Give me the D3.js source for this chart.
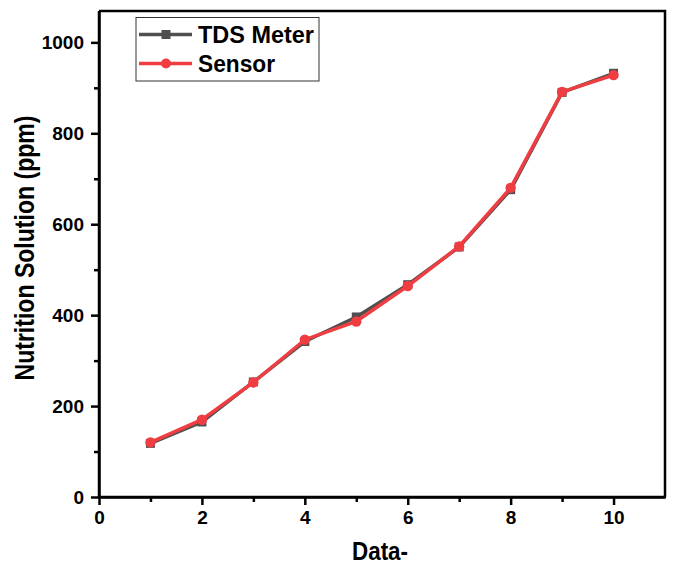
<!DOCTYPE html>
<html><head><meta charset="utf-8">
<script src="https://cdn.jsdelivr.net/npm/d3@7/dist/d3.min.js"></script>
<style>body{margin:0;background:#fff}svg{display:block}text{font-family:"Liberation Sans",Arial,sans-serif;font-weight:bold}</style>
</head><body><svg id="c" width="673" height="567"></svg>
<script>
const xs = [1,2,3,4,5,6,7,8,9,10];
const tdsMeter = [118,165,253,342,396,467,550,676,890,932];
const sensor   = [120,170,252,346,386,464,551,680,891,928];
const xTicks = [0,2,4,6,8,10];
const yTicks = [0,200,400,600,800,1000];
const seriesNames = ["TDS Meter","Sensor"];

const svg = d3.select("#c");
const L=99, R=665, T=11, B=497;
const x = d3.scaleLinear().domain([0,11]).range([L,R]);
const y = d3.scaleLinear().domain([0,1069]).range([B,T]);

// frame
svg.append("path").attr("d",`M${L},${T}H${R}V${B}`).attr("fill","none").attr("stroke","#000").attr("stroke-width",2.5);

svg.append("g").attr("transform",`translate(0,${B})`)
  .call(d3.axisBottom(x).tickValues(xTicks).tickSize(8).tickSizeOuter(0).tickPadding(6).tickFormat(d3.format("d")));
svg.append("g").attr("transform",`translate(0,${B})`)
  .call(d3.axisBottom(x).tickValues([1,3,5,7,9]).tickSize(5).tickFormat("").tickSizeOuter(0))
  .select(".domain").remove();
svg.append("g").attr("transform",`translate(${L},0)`)
  .call(d3.axisLeft(y).tickValues(yTicks).tickSize(8).tickSizeOuter(0).tickPadding(7).tickFormat(d3.format("d")));
svg.append("g").attr("transform",`translate(${L},0)`)
  .call(d3.axisLeft(y).tickValues([100,300,500,700,900]).tickSize(5).tickFormat("").tickSizeOuter(0))
  .select(".domain").remove();
svg.selectAll(".domain").attr("stroke-width",2.5);
svg.selectAll(".tick line").attr("stroke-width",2.5);
svg.selectAll(".tick text").style("font-size","19px").attr("fill","#000");
svg.append("line").attr("x1",L).attr("x2",L).attr("y1",T).attr("y2",B+1).attr("stroke","#000").attr("stroke-width",2.5);
svg.append("line").attr("x1",L-1).attr("x2",R+1).attr("y1",B).attr("y2",B).attr("stroke","#000").attr("stroke-width",2.5);

svg.append("text").attr("x",380).attr("y",560).attr("text-anchor","middle").style("font-size","26px")
  .attr("textLength",56).attr("lengthAdjust","spacingAndGlyphs").text("Data-");
svg.append("text").attr("transform",`translate(34,248) rotate(-90)`).attr("text-anchor","middle").style("font-size","27px")
  .attr("textLength",265).attr("lengthAdjust","spacingAndGlyphs").text("Nutrition Solution (ppm)");

const gray="#4f4f4f", red="#ef3d42";
const line = d3.line().x((d,i)=>x(xs[i])).y(d=>y(d));
svg.append("path").datum(tdsMeter).attr("d",line).attr("fill","none").attr("stroke",gray).attr("stroke-width",3.5);
svg.selectAll(".sq").data(tdsMeter).enter().append("rect")
  .attr("x",(d,i)=>x(xs[i])-4.5).attr("y",d=>y(d)-4.5).attr("width",9).attr("height",9).attr("fill",gray);
svg.append("path").datum(sensor).attr("d",line).attr("fill","none").attr("stroke",red).attr("stroke-width",3.5);
svg.selectAll(".ci").data(sensor).enter().append("circle")
  .attr("cx",(d,i)=>x(xs[i])).attr("cy",d=>y(d)).attr("r",5.2).attr("fill",red);

// legend
const lg = svg.append("g");
lg.append("rect").attr("x",136).attr("y",17.5).attr("width",183).attr("height",63.5).attr("fill","#fff").attr("stroke","#333").attr("stroke-width",1);
const lens=[116,77];
[gray,red].forEach((c,i)=>{
  const yy = 34.5 + i*29;
  lg.append("line").attr("x1",139).attr("x2",192).attr("y1",yy).attr("y2",yy).attr("stroke",c).attr("stroke-width",3.5);
  if(i===0) lg.append("rect").attr("x",161.5).attr("y",yy-4.5).attr("width",9).attr("height",9).attr("fill",c);
  else lg.append("circle").attr("cx",166).attr("cy",yy).attr("r",5).attr("fill",c);
  lg.append("text").attr("x",198).attr("y",yy+8).style("font-size","23px")
    .attr("textLength",lens[i]).attr("lengthAdjust","spacingAndGlyphs").text(seriesNames[i]);
});
</script></body></html>
